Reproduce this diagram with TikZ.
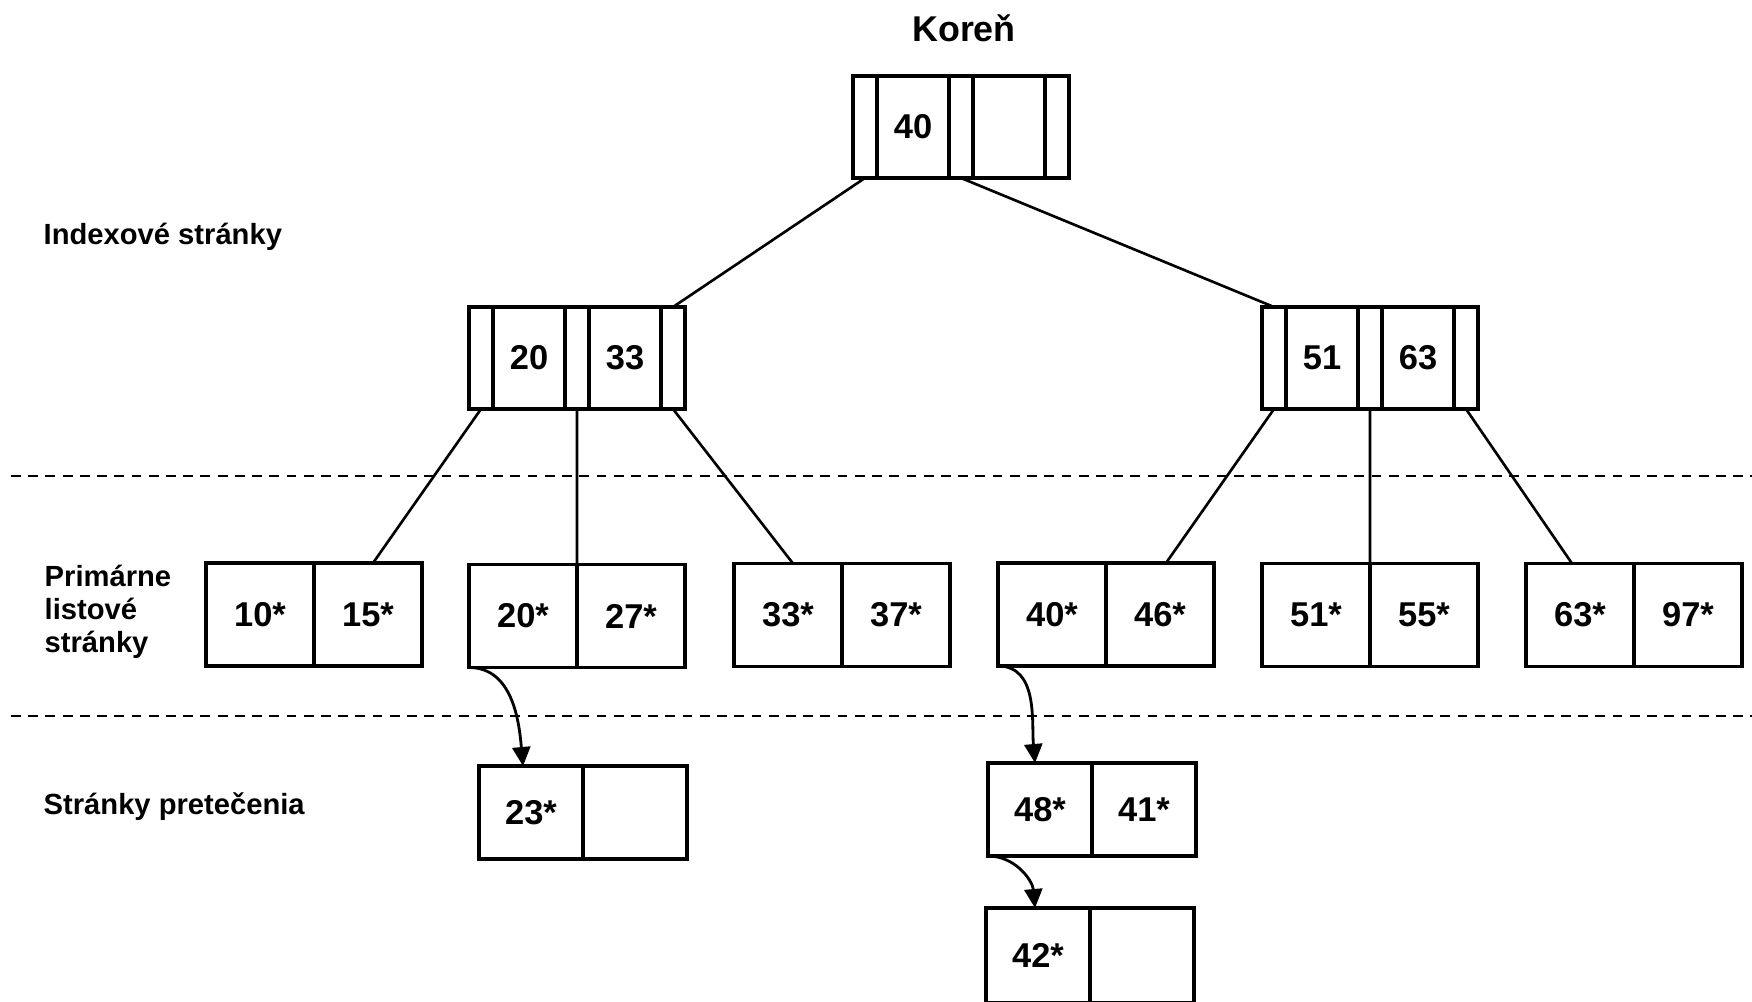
\documentclass[tikz,border=0pt]{standalone}
\usepackage{fontspec}
\setmainfont{Liberation Sans}
\usetikzlibrary{positioning,arrows.meta}

\begin{document}
\begin{tikzpicture}[
    cell/.style={draw,line width=0.9pt,outer sep=0pt,inner sep=0pt,
        minimum height=1.02cm,font=\fontsize{9.8}{11}\selectfont\bfseries},
    ptr/.style={cell,minimum width=0.24cm},
    key/.style={cell,minimum width=0.72cm},
    leaf/.style={cell,minimum width=1.08cm,minimum height=1.03cm},
    ovfl/.style={cell,minimum width=1.04cm,minimum height=0.93cm},
    link/.style={line width=0.75pt},
    ovarrow/.style={-{Triangle[length=1.9mm,width=1.8mm]},line width=0.8pt},
    level/.style={line width=0.6pt,dash pattern=on 2.8pt off 2.1pt},
    lbl/.style={font=\fontsize{8.3}{9.4}\selectfont\bfseries,inner sep=0pt}
]
\useasboundingbox (0,0) rectangle (17.52,-10.01);

% level separators
\draw[level] (0.11,-4.76) -- (17.52,-4.76);
\draw[level] (0.11,-7.16) -- (17.52,-7.16);

% root page
\node[ptr,anchor=west] (r0) at (8.53,-1.27) {};
\node[key,right=0pt of r0] (r1) {40};
\node[ptr,right=0pt of r1] (r2) {};
\node[key,right=0pt of r2] (r3) {};
\node[ptr,right=0pt of r3] (r4) {};

% index pages
\node[ptr,anchor=west] (ml0) at (4.69,-3.58) {};
\node[key,right=0pt of ml0] (ml1) {20};
\node[ptr,right=0pt of ml1] (ml2) {};
\node[key,right=0pt of ml2] (ml3) {33};
\node[ptr,right=0pt of ml3] (ml4) {};

\node[ptr,anchor=west] (mr0) at (12.62,-3.58) {};
\node[key,right=0pt of mr0] (mr1) {51};
\node[ptr,right=0pt of mr1] (mr2) {};
\node[key,right=0pt of mr2] (mr3) {63};
\node[ptr,right=0pt of mr3] (mr4) {};

% leaf pages
\node[leaf,anchor=west] (l1a) at (2.06,-6.145) {10*};
\node[leaf,right=0pt of l1a] (l1b) {15*};
\node[leaf,anchor=west] (l2a) at (4.69,-6.16) {20*};
\node[leaf,right=0pt of l2a] (l2b) {27*};
\node[leaf,anchor=west] (l3a) at (7.34,-6.15) {33*};
\node[leaf,right=0pt of l3a] (l3b) {37*};
\node[leaf,anchor=west] (l4a) at (9.98,-6.145) {40*};
\node[leaf,right=0pt of l4a] (l4b) {46*};
\node[leaf,anchor=west] (l5a) at (12.62,-6.15) {51*};
\node[leaf,right=0pt of l5a] (l5b) {55*};
\node[leaf,anchor=west] (l6a) at (15.26,-6.15) {63*};
\node[leaf,right=0pt of l6a] (l6b) {97*};

% overflow pages
\node[ovfl,anchor=west] (o1a) at (4.79,-8.125) {23*};
\node[ovfl,right=0pt of o1a] (o1b) {};
\node[ovfl,anchor=west] (o2a) at (9.88,-8.095) {48*};
\node[ovfl,right=0pt of o2a] (o2b) {41*};
\node[ovfl,anchor=west,minimum height=0.95cm] (o3a) at (9.86,-9.555) {42*};
\node[ovfl,right=0pt of o3a,minimum height=0.95cm] (o3b) {};

% tree pointers
\draw[link] (r0.south) -- (ml4.north);
\draw[link] (r2.south) -- (mr0.north);
\draw[link] (ml0.south) -- ([xshift=0.5mm]l1b.north);
\draw[link] (ml2.south) -- (l2a.north east);
\draw[link] (ml4.south) -- ([xshift=0.5mm]l3a.north);
\draw[link] (mr0.south) -- ([xshift=0.6mm]l4b.north);
\draw[link] (mr2.south) -- (l5a.north east);
\draw[link] (mr4.south) -- ([xshift=-0.8mm]l6a.north);

% overflow chains
\draw[ovarrow] (l2a.south west) to[out=0,in=95] ([xshift=-0.8mm]o1a.north);
\draw[ovarrow] (l4a.south west) to[out=0,in=95] ([xshift=-0.5mm]o2a.north);
\draw[ovarrow] (o2a.south west) to[out=0,in=95] ([xshift=-0.3mm]o3a.north);

% labels
\node[font=\fontsize{10.2}{12}\selectfont\bfseries] (koren) at (9.64,-0.28) {Koreň};
\node[lbl,anchor=base west] (idx) at (0.43,-2.44) {Indexové stránky};
\node[lbl,anchor=west,align=left] (prim) at (0.44,-6.115) {Primárne\\listové\\stránky};
\node[lbl,anchor=base west] (ovf) at (0.43,-8.14) {Stránky pretečenia};
\end{tikzpicture}
\end{document}
